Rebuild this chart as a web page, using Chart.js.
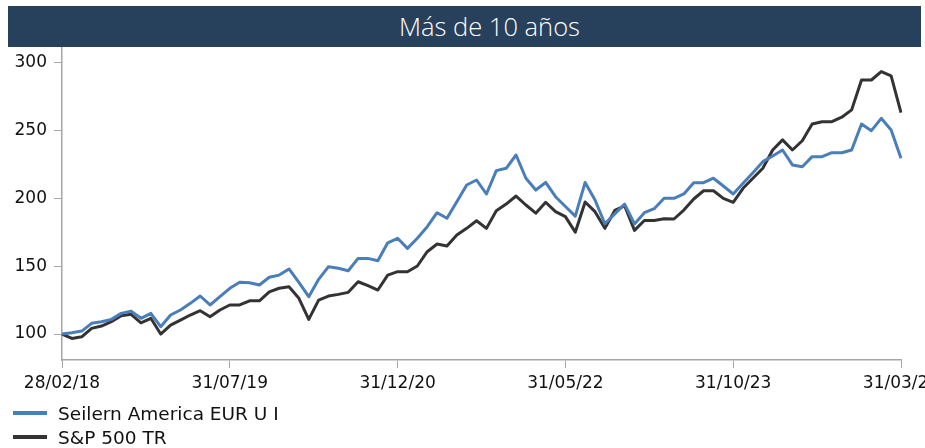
<!DOCTYPE html>
<html lang="es">
<head>
<meta charset="utf-8">
<script src="https://cdn.jsdelivr.net/npm/chart.js"></script>
<style>
  html, body { margin: 0; padding: 0; background: #fff; overflow: hidden; width: 925px; height: 448px; }
  #titulo {
    position: absolute; left: 8px; top: 6px; width: 913px; height: 41px; box-sizing: border-box;
    padding-left: 50px;
    background: #27405c; color: #fff; z-index: 2;
    font: 300 25.5px "Open Sans", sans-serif; line-height: 40px; text-align: center;
  }
  #contenedor { position: absolute; left: 0; top: 0; width: 945px; height: 448px; }
  #leyenda { position: absolute; left: 13px; top: 401px; font: 18.5px "DejaVu Sans", sans-serif; color: #111; }
  .item { height: 24px; display: flex; align-items: center; }
  .marca { display: inline-block; width: 34px; height: 4px; margin-right: 11px; }
</style>
</head>
<body>
<div id="titulo">Más de 10 años</div>
<div id="contenedor"><canvas id="grafico"></canvas></div>
<div id="leyenda"></div>

<script>
// Valores base 100 (fin de mes, feb 2018 - mar 2025)
const seilern = [
  100, 101, 102.2, 107.9, 109.1, 110.8, 115.2, 116.9, 111.6, 115.2,
  105.4, 114.0, 117.7, 122.6, 128.0, 121.4, 127.5, 133.7, 138.1, 137.8,
  136.1, 141.8, 143.4, 147.9, 138.0, 127.5, 140.3, 149.6, 148.4, 146.6,
  155.7, 155.7, 154.0, 167.2, 170.5, 163.1, 170.5, 179.0, 189.3, 185.2,
  197.4, 209.7, 213.4, 203.1, 220.3, 222.0, 231.8, 214.7, 206.0, 211.6,
  201.1, 193.9, 186.8, 211.6, 198.7, 181.2, 188.5, 195.6, 181.0, 189.3,
  192.3, 199.9, 199.9, 203.1, 211.4, 211.4, 214.7, 209.0, 203.1, 211.0,
  218.8, 226.9, 231.1, 235.5, 224.5, 223.2, 230.6, 230.6, 233.5, 233.5,
  235.5, 254.6, 249.7, 258.8, 250.2, 229.4
];
const sp500 = [
  100, 96.8, 98.0, 104.2, 105.9, 109.1, 113.5, 114.5, 108.3, 111.6,
  100.0, 106.6, 110.3, 114.0, 117.2, 112.7, 117.7, 121.4, 121.4, 124.5,
  124.5, 131.1, 133.7, 134.8, 126.3, 110.8, 125.0, 128.0, 129.2, 130.7,
  138.5, 135.6, 132.4, 143.4, 145.9, 145.9, 150.1, 160.6, 166.3, 164.8,
  172.9, 177.8, 183.4, 177.8, 190.8, 195.7, 201.6, 195.0, 189.0, 197.0,
  190.1, 186.4, 175.0, 197.2, 190.1, 177.8, 191.0, 194.4, 176.3, 183.6,
  183.6, 184.9, 184.7, 191.3, 199.4, 205.5, 205.5, 199.9, 197.0, 207.3,
  214.7, 222.0, 235.5, 242.9, 235.5, 242.3, 254.6, 256.3, 256.3, 259.6,
  265.0, 287.0, 287.0, 293.2, 290.0, 263.0
];
const etiquetasX = ['28/02/18', '31/07/19', '31/12/20', '31/05/22', '31/10/23', '31/03/25'];
const ticksY = [100, 150, 200, 250, 300];
const series = ['Seilern America EUR U I', 'S&P 500 TR'];
const colores = ['#4a7ebb', '#333333'];

// fechas de fin de mes
const dd = n => String(n).padStart(2, '0');
const fechas = seilern.map((_, i) => {
  const d = new Date(2018, 2 + i, 0);
  return dd(d.getDate()) + '/' + dd(d.getMonth() + 1) + '/' + String(d.getFullYear()).slice(2);
});

const fuente = { family: '"DejaVu Sans", sans-serif', size: 17 };
const gris = '#a6a6a6';

const ctx = document.getElementById('grafico').getContext('2d');
const chart = new Chart(ctx, {
  type: 'line',
  data: {
    labels: fechas,
    datasets: [
      { label: series[0], data: seilern, borderColor: colores[0], backgroundColor: colores[0] },
      { label: series[1], data: sp500, borderColor: colores[1], backgroundColor: colores[1] }
    ]
  },
  options: {
    responsive: true,
    maintainAspectRatio: false,
    animation: false,
    layout: { padding: { top: 47, right: 44, bottom: 48, left: 0 } },
    elements: {
      line: { borderWidth: 3, tension: 0, borderJoinStyle: 'round' },
      point: { radius: 0, hoverRadius: 0 }
    },
    plugins: { legend: { display: false }, tooltip: { enabled: false } },
    scales: {
      x: {
        grid: { drawOnChartArea: false, drawTicks: true, tickLength: 8, color: gris },
        border: { color: gris, width: 1.5 },
        ticks: { autoSkip: false, maxRotation: 0, padding: 5, color: '#111', font: fuente },
        afterBuildTicks: s => { s.ticks = s.ticks.filter(t => etiquetasX.includes(fechas[t.value])); },
        afterFit: s => { s.height = 40; }
      },
      y: {
        min: 80.9,
        max: 311.3,
        grid: { drawOnChartArea: false, drawTicks: true, tickLength: 8, color: gris },
        border: { color: gris, width: 1.5 },
        ticks: { padding: 7, color: '#111', font: fuente },
        afterBuildTicks: s => { s.ticks = ticksY.map(v => ({ value: v })); },
        afterFit: s => { s.width = 62; }
      }
    }
  }
});

// leyenda en html (vertical, abajo a la izquierda)
const leyenda = document.getElementById('leyenda');
series.forEach((nombre, i) => {
  const fila = document.createElement('div');
  fila.className = 'item';
  fila.innerHTML = `<span class="marca" style="background:${colores[i]}"></span><span></span>`;
  fila.lastChild.textContent = nombre;
  leyenda.appendChild(fila);
});
</script>
</body>
</html>
